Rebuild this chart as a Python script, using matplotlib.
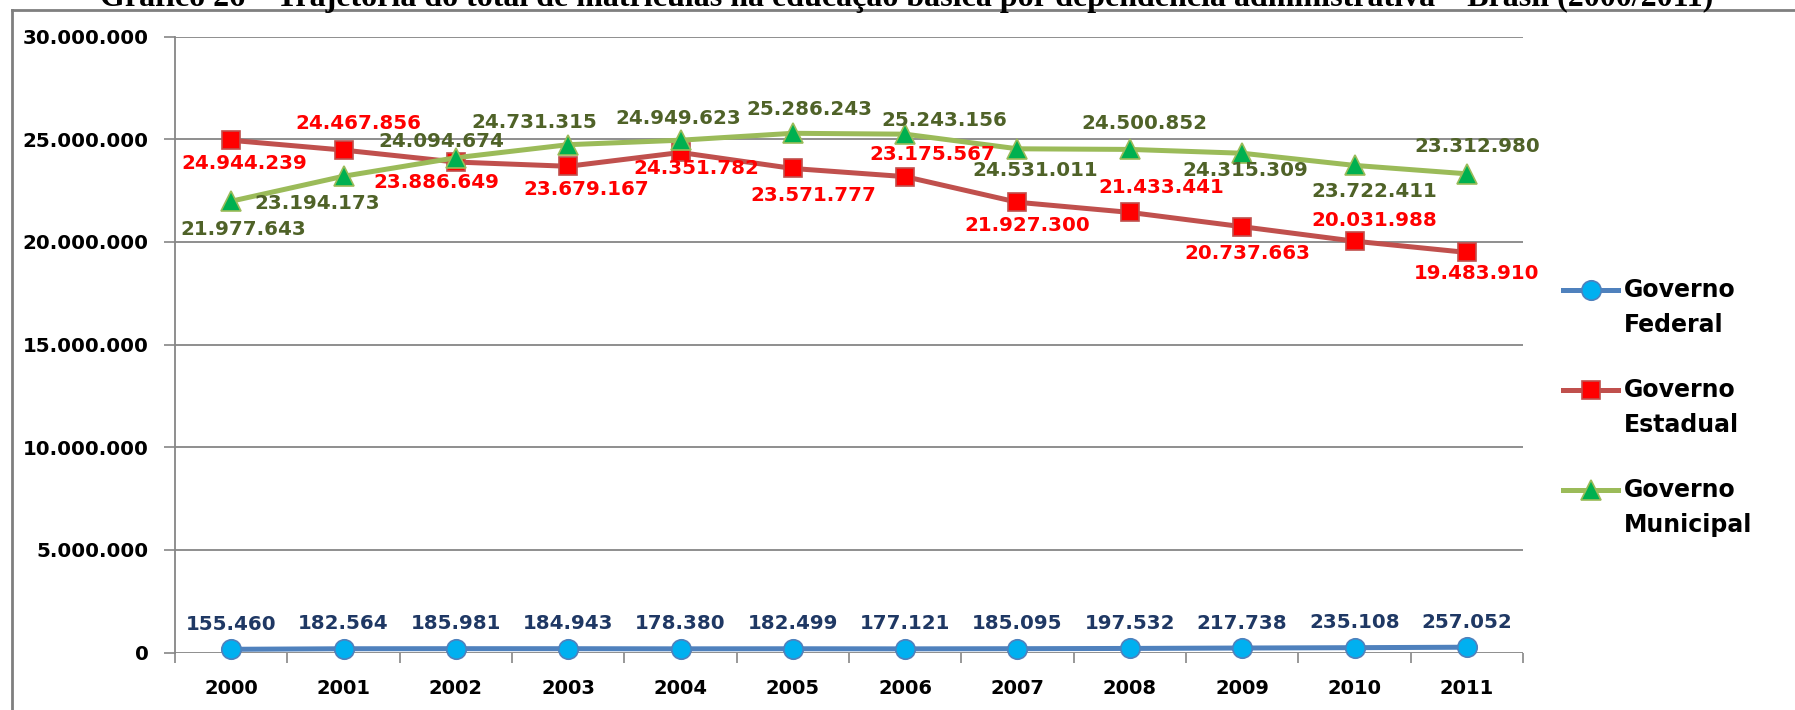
#!/usr/bin/env python3
"""Matrículas na educação básica por dependência administrativa - Brasil (2000/2011)."""

import matplotlib
matplotlib.use("Agg")
import matplotlib.pyplot as plt
from matplotlib.lines import Line2D
from matplotlib.ticker import FuncFormatter

years = ["2000", "2001", "2002", "2003", "2004", "2005",
         "2006", "2007", "2008", "2009", "2010", "2011"]
federal = [155460, 182564, 185981, 184943, 178380, 182499,
           177121, 185095, 197532, 217738, 235108, 257052]
estadual = [24944239, 24467856, 23886649, 23679167, 24351782, 23571777,
            23175567, 21927300, 21433441, 20737663, 20031988, 19483910]
municipal = [21977643, 23194173, 24094674, 24731315, 24949623, 25286243,
             25243156, 24531011, 24500852, 24315309, 23722411, 23312980]
series_names = ["Governo\nFederal", "Governo\nEstadual", "Governo\nMunicipal"]

# label offsets in pixels (dx, dy downward), as placed in the original
est_off = [(13, 23), (15, -27), (-20, 20), (18, 23), (16, 16), (20, 27),
           (27, -22), (10, 23), (31, -25), (5, 27), (20, -21), (10, 21)]
mun_off = [(12, 28), (-26, 27), (-15, -16), (-34, -22), (-2, -22), (17, -24),
           (39, -14), (18, 22), (15, -26), (3, 17), (20, 26), (10, -27)]

TITLE = ("Gráfico 26 – Trajetória do total de matrículas na educação básica "
         "por dependência administrativa – Brasil (2000/2011)")
W, H = 1795, 710


def fmt_br(v):
    return f"{int(v):,}".replace(",", ".")


def main():
    dpi = 100
    fig = plt.figure(figsize=(W / dpi, H / dpi), dpi=dpi, facecolor="white")
    ax = fig.add_axes([175 / W, 1 - 652.5 / H, 1348 / W, 616 / H])
    x = list(range(len(years)))
    px = 72 / dpi  # pixels -> points

    styles = [
        dict(color="#4F81BD", marker="o", ms=14, mfc="#00B0F0", mec="#4F81BD"),
        dict(color="#C0504D", marker="s", ms=13.5, mfc="#FF0000", mec="#C0504D"),
        dict(color="#9BBB59", marker="^", ms=15, mfc="#00B050", mec="#9BBB59"),
    ]
    for vals, st in zip([federal, estadual, municipal], styles):
        ax.plot(x, vals, lw=3.6, mew=1.2, clip_on=False, zorder=5, **st)

    lab_kw = dict(ha="center", va="center", fontsize=14.3, fontweight="bold",
                  textcoords="offset points", zorder=6)
    for i, v in enumerate(federal):
        ax.annotate(fmt_br(v), (i, v), xytext=(0, 25 * px), color="#1F3864", **lab_kw)
    for i, v in enumerate(estadual):
        dx, dy = est_off[i]
        ax.annotate(fmt_br(v), (i, v), xytext=(dx * px, -dy * px), color="#FF0000", **lab_kw)
    for i, v in enumerate(municipal):
        dx, dy = mun_off[i]
        ax.annotate(fmt_br(v), (i, v), xytext=(dx * px, -dy * px), color="#4F6228", **lab_kw)

    ax.set_xlim(-0.5, len(years) - 0.5)
    ax.set_ylim(0, 30000000)
    ax.set_yticks(range(0, 30000001, 5000000))
    ax.yaxis.set_major_formatter(FuncFormatter(lambda v, _: fmt_br(v)))
    ax.set_xticks(x)
    ax.set_xticklabels(years)
    ax.set_xticks([i - 0.5 for i in range(len(years) + 1)], minor=True)
    ax.tick_params(axis="x", which="major", length=0, pad=19, labelsize=14)
    ax.tick_params(axis="x", which="minor", length=7, color="#868686", width=1.2)
    ax.tick_params(axis="y", length=8, color="#868686", width=1.2, pad=11, labelsize=14.3)
    for lbl in ax.get_xticklabels() + ax.get_yticklabels():
        lbl.set_fontweight("bold")

    ax.grid(axis="y", color="#868686", lw=1.3)
    ax.set_axisbelow(True)
    for side in ["top", "right", "bottom"]:
        ax.spines[side].set_visible(False)
    ax.spines["left"].set_color("#868686")
    ax.spines["left"].set_linewidth(1.3)

    # legend drawn by hand to follow the original spacing
    for k, (name, st) in enumerate(zip(series_names, styles)):
        yc = 1 - (290 + 100 * k) / H
        fig.add_artist(Line2D([1563 / W, 1618 / W], [yc, yc], transform=fig.transFigure,
                              lw=3.6, **{**st, "marker": None}))
        fig.add_artist(Line2D([1590.5 / W], [yc], transform=fig.transFigure,
                              lw=0, mew=1.2, **st))
        first, second = name.split("\n")
        fig.text(1624 / W, yc, first, ha="left", va="center", fontsize=17, fontweight="bold")
        fig.text(1624 / W, yc - 35 / H, second, ha="left", va="center",
                 fontsize=17, fontweight="bold")

    # outer frame and clipped title
    fig.add_artist(Line2D([12 / W, 12 / W], [0, 1 - 10 / H],
                          transform=fig.transFigure, color="#7F7F7F", lw=2))
    fig.add_artist(Line2D([12 / W, 1], [1 - 10 / H, 1 - 10 / H],
                          transform=fig.transFigure, color="#7F7F7F", lw=2))
    fig.text(907 / W, 1 - 6 / H, TITLE, ha="center", va="baseline",
             family="Liberation Serif", fontweight="bold", fontsize=23)

    fig.savefig("out.png", dpi=dpi, facecolor="white")
    plt.close(fig)


if __name__ == "__main__":
    main()
